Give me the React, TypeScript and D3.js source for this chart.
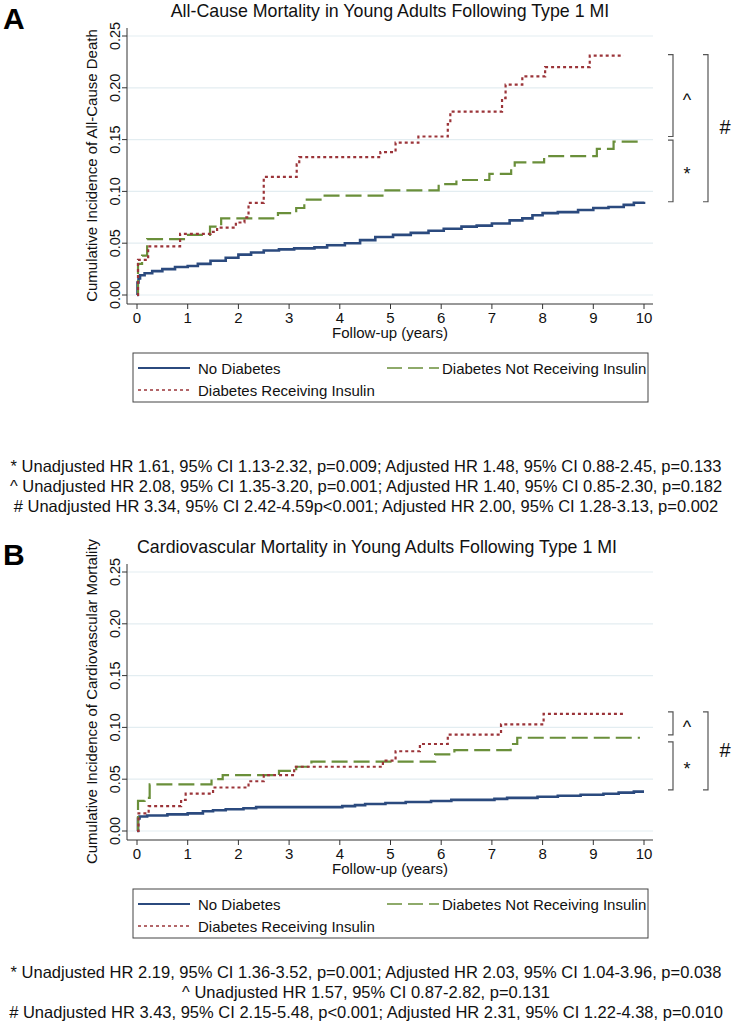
import React from "react";
import * as d3 from "d3";

// ---------- Data ----------
const yTicks = [0, 0.05, 0.1, 0.15, 0.2, 0.25];
const xTicks = [0, 1, 2, 3, 4, 5, 6, 7, 8, 9, 10];

const seriesNames = ["No Diabetes", "Diabetes Not Receiving Insulin", "Diabetes Receiving Insulin"];

// Panel A: all-cause mortality [years, cumulative incidence]
const noDiabetesA: [number, number][] = [
  [0, 0], [0.01, 0.012], [0.03, 0.016], [0.06, 0.019], [0.15, 0.021], [0.3, 0.023], [0.5, 0.025],
  [0.75, 0.027], [1.0, 0.028], [1.2, 0.03], [1.45, 0.033], [1.75, 0.036], [2.0, 0.039], [2.25, 0.041],
  [2.5, 0.043], [2.8, 0.044], [3.1, 0.045], [3.5, 0.046], [3.75, 0.048], [4.1, 0.05], [4.4, 0.053],
  [4.7, 0.056], [5.05, 0.058], [5.4, 0.06], [5.75, 0.062], [6.05, 0.064], [6.4, 0.066], [6.7, 0.067],
  [7.0, 0.069], [7.35, 0.072], [7.6, 0.074], [7.8, 0.077], [8.0, 0.079], [8.3, 0.08], [8.7, 0.082],
  [9.0, 0.084], [9.3, 0.085], [9.6, 0.087], [9.8, 0.089], [10, 0.09],
];
const notInsulinA: [number, number][] = [
  [0, 0], [0.02, 0.03], [0.1, 0.038], [0.2, 0.054], [0.98, 0.058], [1.44, 0.066], [1.66, 0.074],
  [2.78, 0.079], [3.14, 0.084], [3.3, 0.092], [3.62, 0.096], [4.9, 0.101], [5.95, 0.107], [6.3, 0.111],
  [6.95, 0.117], [7.38, 0.123], [7.45, 0.128], [8.03, 0.134], [9.07, 0.141], [9.4, 0.148], [9.95, 0.148],
];
const insulinA: [number, number][] = [
  [0, 0], [0.02, 0.034], [0.22, 0.047], [0.85, 0.059], [1.45, 0.061], [1.58, 0.065], [1.95, 0.07],
  [2.12, 0.075], [2.2, 0.089], [2.5, 0.114], [3.15, 0.126], [3.2, 0.133], [4.8, 0.138], [5.1, 0.147],
  [5.55, 0.153], [6.13, 0.165], [6.18, 0.177], [7.2, 0.19], [7.27, 0.203], [7.6, 0.211], [8.05, 0.22],
  [8.93, 0.231], [9.6, 0.231],
];

// Panel B: cardiovascular mortality
const noDiabetesB: [number, number][] = [
  [0, 0], [0.02, 0.012], [0.05, 0.014], [0.2, 0.015], [0.6, 0.016], [1.0, 0.017], [1.3, 0.019],
  [1.5, 0.02], [1.75, 0.021], [2.1, 0.022], [2.35, 0.023], [3.6, 0.023], [4.05, 0.024], [4.3, 0.025],
  [4.5, 0.026], [4.9, 0.027], [5.3, 0.028], [5.8, 0.029], [6.2, 0.03], [7.05, 0.031], [7.3, 0.032],
  [7.9, 0.033], [8.3, 0.034], [8.75, 0.035], [9.2, 0.036], [9.5, 0.037], [9.8, 0.038], [10, 0.038],
];
const notInsulinB: [number, number][] = [
  [0, 0], [0.02, 0.029], [0.15, 0.032], [0.25, 0.045], [1.47, 0.05], [1.69, 0.054], [2.8, 0.058],
  [3.14, 0.062], [3.44, 0.067], [5.88, 0.074], [6.26, 0.078], [7.37, 0.084], [7.5, 0.09], [9.92, 0.09],
];
const insulinB: [number, number][] = [
  [0, 0], [0.03, 0.017], [0.23, 0.024], [0.87, 0.03], [0.96, 0.036], [1.5, 0.042], [2.2, 0.048],
  [2.5, 0.054], [3.1, 0.062], [4.85, 0.068], [5.1, 0.077], [5.58, 0.084], [6.13, 0.093], [7.18, 0.103],
  [8.02, 0.113], [9.6, 0.113],
];

// brackets: [symbol, bottom value, top value, column]
const bracketsA: [string, number, number, number][] = [
  ["^", 0.153, 0.232, 0],
  ["*", 0.09, 0.1495, 0],
  ["#", 0.09, 0.232, 1],
];
const bracketsB: [string, number, number, number][] = [
  ["^", 0.0927, 0.115, 0],
  ["*", 0.0396, 0.086, 0],
  ["#", 0.0396, 0.115, 1],
];

const statsA = [
  "* Unadjusted HR 1.61, 95% CI 1.13-2.32, p=0.009; Adjusted HR 1.48, 95% CI 0.88-2.45, p=0.133",
  "^ Unadjusted HR 2.08, 95% CI 1.35-3.20, p=0.001; Adjusted HR 1.40, 95% CI 0.85-2.30, p=0.182",
  "# Unadjusted HR 3.34, 95% CI 2.42-4.59p<0.001; Adjusted HR 2.00, 95% CI 1.28-3.13, p=0.002",
];
const statsB = [
  "* Unadjusted HR 2.19, 95% CI 1.36-3.52, p=0.001; Adjusted HR 2.03, 95% CI 1.04-3.96, p=0.038",
  "^ Unadjusted HR 1.57, 95% CI 0.87-2.82, p=0.131",
  "# Unadjusted HR 3.43, 95% CI 2.15-5.48, p<0.001; Adjusted HR 2.31, 95% CI 1.22-4.38, p=0.010",
];

// ---------- Styles ----------
const FONT = "'Liberation Sans', Arial, Helvetica, sans-serif";
const COLORS = ["#2b4a7e", "#6a8f3a", "#9b3439"];
const DASH = ["", "16 6", "3 3"];
const WIDTH = [2.6, 2.2, 2.2];

type PanelProps = {
  top: number;
  label: string;
  title: string;
  titleX: number;
  yTitle: string;
  series: [number, number][][];
  brackets: [string, number, number, number][];
  stats: string[];
  statsY: number;
};

function Panel({ top, label, title, titleX, yTitle, series, brackets, stats, statsY }: PanelProps) {
  const x = d3.scaleLinear().domain([0, 10]).range([137, 644]);
  const y = d3.scaleLinear().domain([0, 0.25]).range([top + 295, top + 36]);
  const line = d3
    .line<[number, number]>()
    .x((d) => x(d[0]))
    .y((d) => y(d[1]))
    .curve(d3.curveStepAfter);
  const axisX0 = 127;
  const axisX1 = 653;
  const axisY = top + 304;
  const colX = [673, 708];
  const symX = [687, 725];
  const legTop = top + 353;
  return (
    <g fontFamily={FONT}>
      <text x={3} y={top + 29} fontSize={30} fontWeight="bold" fill="#000">
        {label}
      </text>
      <text x={titleX} y={top + 17} fontSize={17.8} textAnchor="middle" fill="#111">
        {title}
      </text>
      {/* grid */}
      {yTicks.map((t) => (
        <line key={"g" + t} x1={axisX0} x2={axisX1} y1={y(t)} y2={y(t)} stroke="#e3edf1" strokeWidth={1.2} />
      ))}
      {/* axes */}
      <line x1={axisX0} x2={axisX0} y1={top + 28} y2={axisY} stroke="#333" strokeWidth={1} />
      <line x1={axisX0} x2={axisX1} y1={axisY} y2={axisY} stroke="#333" strokeWidth={1} />
      {yTicks.map((t) => (
        <g key={"yt" + t}>
          <line x1={axisX0 - 5} x2={axisX0} y1={y(t)} y2={y(t)} stroke="#333" />
          <text
            transform={`translate(${axisX0 - 7},${y(t)}) rotate(-90)`}
            textAnchor="middle"
            fontSize={14.5}
            fill="#111"
          >
            {d3.format(".2f")(t)}
          </text>
        </g>
      ))}
      {xTicks.map((t) => (
        <g key={"xt" + t}>
          <line x1={x(t)} x2={x(t)} y1={axisY} y2={axisY + 5} stroke="#333" />
          <text x={x(t)} y={axisY + 18.5} textAnchor="middle" fontSize={15} fill="#111">
            {t}
          </text>
        </g>
      ))}
      <text
        transform={`translate(97,${(y(0) + y(0.25)) / 2}) rotate(-90)`}
        textAnchor="middle"
        fontSize={15}
        fill="#111"
      >
        {yTitle}
      </text>
      <text x={390} y={axisY + 34} textAnchor="middle" fontSize={15} fill="#111">
        Follow-up (years)
      </text>
      {/* series */}
      {series.map((s, i) => (
        <path
          key={"s" + i}
          d={line(s) || ""}
          fill="none"
          stroke={COLORS[i]}
          strokeWidth={WIDTH[i]}
          strokeDasharray={DASH[i] || undefined}
        />
      ))}
      {/* brackets */}
      {brackets.map(([sym, lo, hi, col], i) => {
        const xr = colX[col];
        const yt = y(hi);
        const yb = y(lo);
        return (
          <g key={"b" + i}>
            <path
              d={`M${xr - 5},${yt}H${xr}V${yb}H${xr - 5}`}
              fill="none"
              stroke="#555"
              strokeWidth={1.2}
            />
            <text
              x={symX[col]}
              y={(yt + yb) / 2 + (sym === "*" ? 9 : sym === "^" ? 10 : 6)}
              textAnchor="middle"
              fontSize={sym === "#" ? 20 : 18}
              fill="#111"
            >
              {sym}
            </text>
          </g>
        );
      })}
      {/* legend */}
      <rect x={133} y={legTop} width={515} height={49} fill="#fff" stroke="#444" strokeWidth={1} />
      {[
        [0, 138, legTop + 15],
        [1, 387, legTop + 15],
        [2, 138, legTop + 37],
      ].map(([i, lx, ly]) => (
        <g key={"l" + i}>
          <line
            x1={lx}
            x2={lx + 52}
            y1={ly}
            y2={ly}
            stroke={COLORS[i]}
            strokeWidth={i === 0 ? 2 : 1.6}
            strokeDasharray={i === 1 ? "15 6" : i === 2 ? "3 3" : undefined}
          />
          <text x={lx + (i === 1 ? 55 : 60)} y={ly + 5.5} fontSize={15} fill="#111">
            {seriesNames[i]}
          </text>
        </g>
      ))}
      {/* stats */}
      {stats.map((s, i) => (
        <text key={"st" + i} x={366} y={statsY + i * 20} textAnchor="middle" fontSize={16.5} fill="#111">
          {s}
        </text>
      ))}
    </g>
  );
}

export default function App() {
  return (
    <svg
      width={742}
      height={1026}
      viewBox="0 0 742 1026"
      style={{ position: "absolute", left: 0, top: 0, background: "#fff" }}
    >
      <rect width={742} height={1026} fill="#fff" />
      <Panel
        top={0}
        label="A"
        title="All-Cause Mortality in Young Adults Following Type 1 MI"
        titleX={390}
        yTitle="Cumulative Incidence of All-Cause Death"
        series={[noDiabetesA, notInsulinA, insulinA]}
        brackets={bracketsA}
        stats={statsA}
        statsY={472}
      />
      <Panel
        top={536}
        label="B"
        title="Cardiovascular Mortality in Young Adults Following Type 1 MI"
        titleX={377}
        yTitle="Cumulative Incidence of Cardiovascular Mortality"
        series={[noDiabetesB, notInsulinB, insulinB]}
        brackets={bracketsB}
        stats={statsB}
        statsY={978}
      />
    </svg>
  );
}
